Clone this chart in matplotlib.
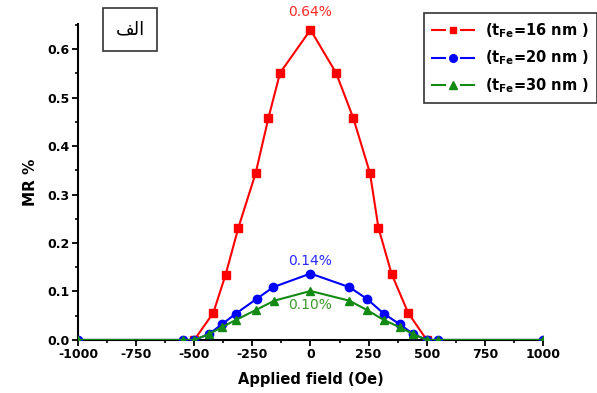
import numpy as np
import matplotlib.pyplot as plt
from matplotlib.lines import Line2D
from matplotlib.legend_handler import HandlerBase
from matplotlib.ticker import MultipleLocator

plt.rcParams['font.family'] = ['DejaVu Sans']
plt.rcParams['axes.unicode_minus'] = False
plt.rcParams['mathtext.fontset'] = 'custom'
plt.rcParams['mathtext.bf'] = 'DejaVu Sans:bold'
plt.rcParams['mathtext.rm'] = 'DejaVu Sans:bold'

# data
x16 = [-500, -418, -365, -310, -236, -181, -131, 0, 110, 184, 256, 292, 349, 420, 500]
mr16 = [0, 0.056, 0.135, 0.232, 0.344, 0.458, 0.551, 0.64, 0.551, 0.458, 0.344, 0.232, 0.136, 0.056, 0]

x20 = [-1000, -550, -500, -437, -379, -322, -231, -160, 0, 167, 242, 316, 385, 442, 500, 550, 1000]
mr20 = [0, 0, 0, 0.012, 0.033, 0.054, 0.085, 0.109, 0.137, 0.109, 0.085, 0.054, 0.032, 0.012, 0, 0, 0]

x30 = [-1000, -550, -500, -437, -379, -322, -234, -156, 0, 167, 242, 316, 385, 442, 500, 550, 1000]
mr30 = [0, 0, 0, 0.012, 0.027, 0.041, 0.062, 0.081, 0.101, 0.081, 0.062, 0.041, 0.026, 0.012, 0, 0, 0]

labels = [r'(t$_{\mathbf{Fe}}$=16 nm )', r'(t$_{\mathbf{Fe}}$=20 nm )', r'(t$_{\mathbf{Fe}}$=30 nm )']
peaks = ['0.64%', '0.14%', '0.10%']


class GapHandler(HandlerBase):
    # line - marker - line, with gaps around the marker
    def create_artists(self, legend, orig, xdescent, ydescent, width, height, fontsize, trans):
        ym = height / 2 - ydescent
        x0 = -xdescent
        c = orig.get_color()
        arts = []
        for a, b in [(x0, x0 + 0.31 * width), (x0 + 0.69 * width, x0 + width)]:
            arts.append(Line2D([a, b], [ym, ym], color=c, lw=1.5, transform=trans))
        arts.append(Line2D([x0 + width / 2], [ym], color=c, marker=orig.get_marker(),
                           markersize=orig.get_markersize() - 0.5, linestyle='none',
                           transform=trans))
        return arts


fig = plt.figure(figsize=(5.97, 3.93), dpi=100)
ax = fig.add_axes([0.1307, 0.135, 0.7788, 0.804])

l1, = ax.plot(x16, mr16, '-s', color='#ff0000', lw=1.5, ms=5.5, zorder=3)
l2, = ax.plot(x20, mr20, '-o', color='#0000ff', lw=1.5, ms=6, zorder=4)
l3, = ax.plot(x30, mr30, '-^', color='#138a13', lw=1.5, ms=6, zorder=5)

ax.text(0, 0.676, peaks[0], color='#ff2a2a', ha='center', va='center', fontsize=10)
ax.text(0, 0.163, peaks[1], color='#2a2aff', ha='center', va='center', fontsize=10)
ax.text(0, 0.072, peaks[2], color='#3a9a2a', ha='center', va='center', fontsize=10)

ax.set_xlim(-1000, 1000)
ax.set_ylim(0, 0.652)
ax.spines['top'].set_visible(False)
ax.spines['right'].set_visible(False)
ax.spines['left'].set_linewidth(1.5)
ax.spines['bottom'].set_linewidth(1.5)
ax.xaxis.set_major_locator(MultipleLocator(250))
ax.xaxis.set_minor_locator(MultipleLocator(125))
ax.yaxis.set_major_locator(MultipleLocator(0.1))
ax.yaxis.set_minor_locator(MultipleLocator(0.05))
ax.yaxis.set_major_formatter(plt.FormatStrFormatter('%.1f'))
ax.tick_params(which='major', length=4, width=1.3, labelsize=9, pad=2)
ax.tick_params(which='minor', length=2.5, width=1.2)
for t in ax.get_xticklabels() + ax.get_yticklabels():
    t.set_fontweight('bold')

ax.set_xlabel('Applied field (Oe)', fontsize=10.5, fontweight='bold', labelpad=8)
ax.set_ylabel('MR %', fontsize=11, fontweight='bold', labelpad=7)

hmap = {l1: GapHandler(), l2: GapHandler(), l3: GapHandler()}
leg = fig.legend([l1, l2, l3], labels, loc='upper right', bbox_to_anchor=(0.9995, 0.967),
                 borderaxespad=0, handler_map=hmap, handlelength=2.9,
                 prop={'weight': 'bold', 'size': 10.5}, fancybox=False,
                 edgecolor='#333333', framealpha=1, borderpad=0.55, labelspacing=0.62,
                 handletextpad=0.7)
leg.get_frame().set_linewidth(1.2)

fig.text(0.218, 0.925, '\uFED2\uFEDF\uFE8D', ha='center', va='center', fontsize=13,
         family=['DejaVu Sans'],
         bbox=dict(boxstyle='square,pad=0.7', fc='white', ec='#333333', lw=1.2))

fig.savefig('out.png', dpi=100)
